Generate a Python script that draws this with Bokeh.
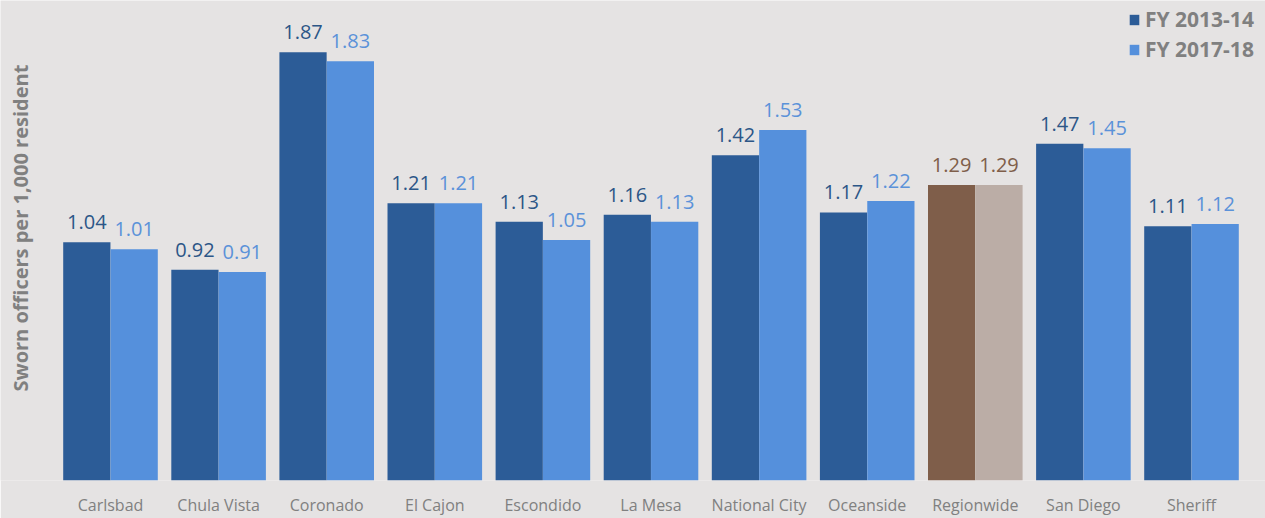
import math
from bokeh.plotting import figure
from bokeh.models import (ColumnDataSource, Range1d, FixedTicker, Label, Legend, LegendItem)
from bokeh.transform import dodge
from bokeh.embed import file_html
from bokeh.resources import INLINE

# ---- data ----
categories = ["Carlsbad", "Chula Vista", "Coronado", "El Cajon", "Escondido", "La Mesa",
              "National City", "Oceanside", "Regionwide", "San Diego", "Sheriff"]
fy_2013_14 = [1.04, 0.92, 1.87, 1.21, 1.13, 1.16, 1.42, 1.17, 1.29, 1.47, 1.11]
fy_2017_18 = [1.01, 0.91, 1.83, 1.21, 1.05, 1.13, 1.53, 1.22, 1.29, 1.45, 1.12]
series_names = ["FY 2013-14", "FY 2017-18"]
y_title = "Sworn officers per 1,000 resident"

# ---- styles ----
BG = "#E5E3E3"
DARK = "#2C5C97"
LIGHT = "#5590DC"
BROWN = "#7F5E4A"
TAN = "#BBADA6"
DARK_TXT = "#2C5687"
LIGHT_TXT = "#5B92D9"
BROWN_TXT = "#7F5E4A"
GREY = "#808080"
FONT = "Open Sans"

W, H = 1265, 518
FRAME_H = 483
px_per_cat = 108.1
first_center_px = 110
x_start = -first_center_px / px_per_cat
x_end = x_start + W / px_per_cat
y_end = FRAME_H / 230.5

idx = list(range(len(categories)))
special = "Regionwide"
src = ColumnDataSource(dict(
    x=idx,
    a=fy_2013_14,
    b=fy_2017_18,
    a_txt=[f"{v:.2f}" for v in fy_2013_14],
    b_txt=[f"{v:.2f}" for v in fy_2017_18],
    a_col=[BROWN if c == special else DARK for c in categories],
    b_col=[TAN if c == special else LIGHT for c in categories],
    a_tcol=[BROWN_TXT if c == special else DARK_TXT for c in categories],
    b_tcol=[BROWN_TXT if c == special else LIGHT_TXT for c in categories],
))

p = figure(width=W, height=H, output_backend="svg", toolbar_location=None,
           x_range=Range1d(x_start, x_end), y_range=Range1d(0, y_end),
           min_border_left=0, min_border_right=0, min_border_top=0,
           min_border_bottom=H - FRAME_H)
p.background_fill_color = BG
p.border_fill_color = BG
p.outline_line_color = None
p.grid.visible = False
p.yaxis.visible = False

bw = 0.437
off = 0.219
ra = p.vbar(x=dodge("x", -off), top="a", width=bw, bottom=0, source=src,
            fill_color="a_col", line_color=None)
rb = p.vbar(x=dodge("x", off), top="b", width=bw, bottom=0, source=src,
            fill_color="b_col", line_color=None)

p.text(x=dodge("x", -off), y="a", text="a_txt", source=src, text_color="a_tcol",
       text_font={"value": FONT}, text_font_size="20px",
       text_align="center", text_baseline="alphabetic", y_offset=-20)
p.text(x=dodge("x", off), y="b", text="b_txt", source=src, text_color="b_tcol",
       text_font={"value": FONT}, text_font_size="20px",
       text_align="center", text_baseline="alphabetic", y_offset=-20)

ax = p.xaxis[0]
ax.ticker = FixedTicker(ticks=idx)
ax.major_label_overrides = {i: c for i, c in enumerate(categories)}
ax.axis_line_color = None
ax.major_tick_line_color = None
ax.minor_tick_line_color = None
ax.major_tick_out = 0
ax.major_label_standoff = 13
ax.major_label_text_font = FONT
ax.major_label_text_font_size = "16px"
ax.major_label_text_color = GREY

# y-axis title
p.add_layout(Label(x=x_start + 20 / px_per_cat, y=(FRAME_H - 229) / 230.5, text=y_title,
                   angle=math.pi / 2, text_align="center", text_baseline="middle",
                   text_font=FONT, text_font_size="20px", text_font_style="bold",
                   text_color=GREY))

legend = Legend(items=[LegendItem(label=series_names[0], renderers=[ra], index=0),
                       LegendItem(label=series_names[1], renderers=[rb], index=0)],
                location=(1128, 417))
legend.background_fill_alpha = 0
legend.border_line_alpha = 0
legend.label_text_font = FONT
legend.label_text_font_size = "21px"
legend.label_text_font_style = "bold"
legend.label_text_color = GREY
legend.glyph_width = 12
legend.glyph_height = 13
legend.label_standoff = 5
legend.spacing = 2
legend.padding = 0
legend.margin = 0
p.add_layout(legend)

open("out.html", "w").write(file_html(p, INLINE))
